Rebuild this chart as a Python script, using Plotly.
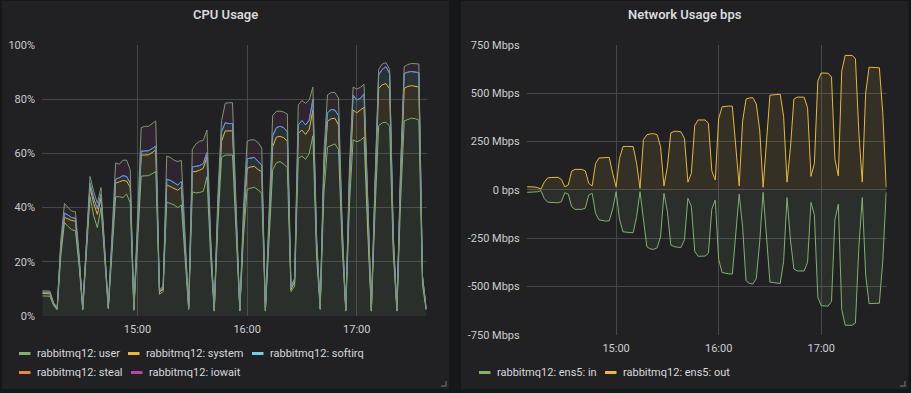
import pandas as pd
import plotly.graph_objects as go

# ---------------- data ----------------
times = pd.date_range("2019-01-01 14:08", periods=106, freq="2min")

cpu_names = ["rabbitmq12: user", "rabbitmq12: system", "rabbitmq12: softirq",
             "rabbitmq12: steal", "rabbitmq12: iowait"]
net_names = ["rabbitmq12: ens5: in", "rabbitmq12: ens5: out"]

cpu_user = [
    7.4, 7.4, 7.3, 4.0, 2.3, 22, 34.5, 33, 31.8, 31.5,
    18.5, 2.2, 24, 44, 37, 32.6, 40, 20, 2.6, 23,
    44, 44, 43.7, 45, 41.8, 2.1, 26, 51.6, 51.7, 51.8,
    52.5, 53.3, 8.0, 9.0, 42, 41.5, 41, 40, 41, 21.5,
    2.4, 45.8, 45.4, 45.6, 46, 51.4, 22, 1.8, 34, 58.5,
    59.4, 59.4, 59.4, 30, 1.8, 29, 46.7, 47.2, 47.5, 46.5,
    45.3, 1.8, 29, 54, 56.5, 57, 56, 54.8, 9.0, 11,
    58.2, 59, 57.8, 60, 66.5, 22, 2.4, 45, 62.3, 63,
    63.5, 61.5, 26, 1.8, 41, 65, 64.3, 64.8, 66, 31,
    1.8, 38, 70.2, 71.3, 71.5, 70, 23, 1.8, 42, 72,
    72.5, 73, 72.8, 72.3, 11.5, 2.2,
]
cpu_system = [
    0.9, 0.9, 0.9, 0.4, 0.3, 3, 1.9, 2.8, 3.4, 3.5,
    2.0, 0.4, 3, 3.5, 4.5, 4.9, 3.5, 2.5, 0.4, 3,
    5, 5.5, 6.3, 4.8, 5.7, 0.4, 4, 7.8, 7.7, 7.7,
    7.8, 8.0, 0.8, 0.9, 6.4, 6.3, 6.0, 6.4, 6.5, 3.5,
    0.5, 7.4, 7.9, 8.2, 8.5, 7.4, 4, 0.3, 5, 6.0,
    8.9, 8.9, 8.9, 4.5, 0.3, 5, 7.8, 7.8, 7.7, 7.5,
    8.0, 0.3, 4.5, 8.5, 9.5, 9.3, 9.8, 9.7, 0.8, 1.5,
    9.2, 9.6, 9.2, 8.9, 9.5, 4, 0.5, 7, 9.5, 9.8,
    9.5, 9.0, 4, 0.3, 7, 11, 10.7, 11.2, 11, 5,
    0.3, 7, 13.8, 14.0, 14.3, 13.8, 4, 0.3, 8, 12,
    12.2, 12, 12, 12.2, 2.0, 0.4,
]
cpu_softirq = [
    0.5, 0.5, 0.5, 0.3, 0.2, 1, 1.6, 1.4, 1.1, 1.1,
    1.0, 0.2, 1, 1.5, 2.0, 2.0, 1.5, 1.0, 0.2, 1,
    1.5, 1.5, 1.8, 1.7, 1.5, 0.2, 1, 1.4, 1.5, 1.5,
    1.5, 1.4, 0.4, 0.5, 2.1, 2.2, 2.2, 1.9, 2.1, 1.0,
    0.2, 1.8, 1.9, 1.7, 1.8, 1.5, 1, 0.2, 2, 3.5,
    3.0, 2.7, 2.7, 1.5, 0.2, 2, 3.5, 3.3, 3.3, 3.0,
    2.4, 0.2, 2.5, 4.0, 3.5, 3.7, 3.7, 3.5, 0.5, 0.7,
    3.1, 3.5, 3.5, 3.4, 4.0, 2, 0.2, 3, 3.2, 3.4,
    3.0, 3.5, 2, 0.2, 3, 5.5, 4.7, 4.3, 5, 2,
    0.2, 2, 5.0, 5.7, 6.2, 5.7, 2, 0.2, 3, 5.5,
    5.3, 5.2, 5.2, 5.3, 1.0, 0.2,
]
cpu_steal = [
    0, 0, 0, 0, 0, 0, 0, 0, 0, 0,
    0, 0, 0, 0, 0, 0, 0, 0, 0, 0,
    0, 0, 0, 0, 0, 0, 0, 0, 0, 0,
    0, 0, 0, 0, 0, 0, 0, 0, 0, 0,
    0, 0, 0, 0, 0, 0, 0, 0, 0, 0,
    0, 0, 0, 0, 0, 0, 0, 0, 0, 0,
    0, 0, 0, 0, 0, 0, 0, 0, 0, 0,
    0, 0, 0, 0, 0, 0, 0, 0, 0, 0,
    0, 0, 0, 0, 0, 0, 0, 0, 0, 0,
    0, 0, 0, 0, 0, 0, 0, 0, 0, 0,
    0, 0, 0, 0, 0, 0,
]
cpu_iowait = [
    0.5, 0.5, 0.5, 0.3, 0.2, 2, 3.5, 2.8, 2.4, 2.4,
    1.5, 0.2, 2, 2.5, 2.5, 2.1, 2.4, 1.5, 0.3, 3,
    6, 5, 5.7, 6, 5, 0.3, 4, 8.7, 9.1, 9.0,
    9.2, 9.3, 0.5, 0.6, 8.5, 8.5, 8.3, 8.7, 7.8, 4.0,
    0.3, 6.5, 8.3, 9.0, 8.5, 8.3, 3, 0.2, 4, 4.0,
    7.2, 7.7, 7.7, 4.0, 0.2, 4, 6.5, 6.7, 6.5, 7.0,
    6.3, 0.2, 4, 7.5, 6.0, 5.6, 5.8, 6.5, 0.7, 0.8,
    7.4, 7.4, 8.0, 7.4, 4.5, 2, 0.3, 5, 6.6, 6.3,
    6.5, 6.5, 3, 0.2, 4, 3.0, 4.0, 4.1, 3.5, 2,
    0.2, 3, 2.0, 2.0, 1.5, 1.5, 1, 0.2, 2, 2.5,
    2.8, 3.0, 3.2, 3.2, 0.5, 0.2,
]

net_out = [
    16, 16, 15, 12, 4, 40, 62, 64, 64, 65,
    54, 16, 25, 97, 106, 107, 106, 98, 34, 20,
    137, 165, 167, 168, 168, 85, 16, 163, 224, 225,
    225, 224, 137, 8, 260, 285, 290, 291, 285, 224,
    20, 120, 295, 303, 303, 300, 265, 40, 85, 333,
    362, 362, 362, 345, 98, 51, 368, 430, 433, 434,
    433, 220, 20, 355, 470, 476, 477, 445, 310, 13,
    259, 490, 492, 494, 495, 380, 40, 220, 470, 480,
    480, 480, 425, 70, 137, 563, 605, 606, 604, 584,
    160, 72, 615, 696, 696, 696, 680, 300, 40, 500,
    635, 635, 635, 632, 400, 13,
]
net_in = [
    -13, -13, -13, -10, -4, -45, -64, -66, -66, -67,
    -61, -15, -22, -87, -101, -102, -101, -95, -27, -18,
    -122, -155, -160, -162, -160, -100, -10, -152, -217, -220,
    -221, -222, -139, -10, -170, -295, -306, -308, -300, -243,
    -18, -113, -286, -294, -297, -298, -258, -44, -85, -318,
    -344, -344, -343, -328, -100, -53, -360, -428, -433, -435,
    -436, -222, -22, -193, -470, -485, -487, -460, -270, -13,
    -250, -478, -480, -483, -485, -370, -40, -260, -410, -420,
    -420, -420, -375, -65, -131, -556, -600, -602, -602, -578,
    -155, -74, -620, -701, -701, -701, -690, -300, -40, -440,
    -589, -589, -589, -587, -370, -13,
]

cpu_ticks = [0, 20, 40, 60, 80, 100]
cpu_tick_text = ["0%", "20%", "40%", "60%", "80%", "100%"]
net_ticks = [-750, -500, -250, 0, 250, 500, 750]
net_tick_text = ["-750 Mbps", "-500 Mbps", "-250 Mbps", "0 bps",
                 "250 Mbps", "500 Mbps", "750 Mbps"]
hour_ticks = ["2019-01-01 15:00", "2019-01-01 16:00", "2019-01-01 17:00"]
hour_text = ["15:00", "16:00", "17:00"]

for arr in (cpu_user, cpu_system, cpu_softirq, cpu_steal, cpu_iowait, net_out, net_in):
    assert len(arr) == len(times), len(arr)

# ---------------- style ----------------
W, H = 911, 393
BODY = "#161719"
PANEL = "#212124"
GRID = "#47474a"
TXT = "#d8d9da"
TICK = "#cccdce"
FONT = "Roboto, Helvetica, Arial, sans-serif"

legend_colors_cpu = ["#7eb26d", "#eab839", "#6ed0e0", "#ef843c", "#ba43a9"]
legend_colors_net = ["#7eb26d", "#eab839"]
cpu_line_colors = ["#7eb26d", "#eab839", "#6a8fd6", "#6a8fd6", "#7b9a70"]
cpu_fill_colors = ["rgba(126,178,109,0.10)", "rgba(234,184,57,0.10)",
                   "rgba(110,208,224,0.10)", "rgba(239,132,60,0.10)",
                   "rgba(186,67,169,0.10)"]


def px(x):
    return x / W


def py(y):
    return 1 - y / H


fig = go.Figure()

cpu_series = [cpu_user, cpu_system, cpu_softirq, cpu_steal, cpu_iowait]
for name, vals, lc, fc in zip(cpu_names, cpu_series, cpu_line_colors, cpu_fill_colors):
    fig.add_trace(go.Scatter(
        x=times, y=vals, name=name, mode="lines", stackgroup="cpu",
        line=dict(color=lc, width=1), fillcolor=fc,
        xaxis="x", yaxis="y", showlegend=False, hoverinfo="skip"))

fig.add_trace(go.Scatter(
    x=times, y=net_in, name=net_names[0], mode="lines", fill="tozeroy",
    line=dict(color="#7eb26d", width=1), fillcolor="rgba(126,178,109,0.10)",
    xaxis="x2", yaxis="y2", showlegend=False, hoverinfo="skip"))
fig.add_trace(go.Scatter(
    x=times, y=net_out, name=net_names[1], mode="lines", fill="tozeroy",
    line=dict(color="#eab839", width=1), fillcolor="rgba(234,184,57,0.10)",
    xaxis="x2", yaxis="y2", showlegend=False, hoverinfo="skip"))

xrange = ["2019-01-01 14:07:42", "2019-01-01 17:38:18"]
xcommon = dict(type="date", range=xrange, tickvals=hour_ticks, ticktext=hour_text,
               showgrid=True, gridcolor=GRID, gridwidth=1, zeroline=False,
               showline=False, ticks="", ticklabelstandoff=5, automargin=False,
               tickfont=dict(family=FONT, size=11, color=TICK), fixedrange=True)
ycommon = dict(showgrid=True, gridcolor=GRID, gridwidth=1, zeroline=False,
               showline=False, ticks="", ticklabelstandoff=6, automargin=False,
               tickfont=dict(family=FONT, size=11, color=TICK), fixedrange=True)

shapes = []
# panels
for x0, x1 in ((2, 449), (461, 908)):
    shapes.append(dict(type="rect", xref="paper", yref="paper", layer="below",
                       x0=px(x0), x1=px(x1), y0=py(389), y1=py(1),
                       fillcolor=PANEL, line=dict(width=0)))
    # resize corner
    shapes.append(dict(type="path", xref="paper", yref="paper",
                       path="M {a},{b} L {c},{b} L {c},{d}".format(
                           a=px(x1 - 8), b=py(386), c=px(x1 - 3), d=py(381)),
                       line=dict(color="#5c5c5f", width=1.5)))

annotations = [
    dict(text="CPU Usage", x=px(225.5), y=py(15), xref="paper", yref="paper",
         showarrow=False, xanchor="center", yanchor="middle",
         font=dict(family=FONT, size=13, color=TXT, weight=600)),
    dict(text="Network Usage bps", x=px(684.5), y=py(15), xref="paper", yref="paper",
         showarrow=False, xanchor="center", yanchor="middle",
         font=dict(family=FONT, size=13, color=TXT, weight=600)),
]

# legends (marker x start, row y)
cpu_leg_pos = [(19, 353.5), (128, 353.5), (252, 353.5), (19, 372.5), (131, 372.5)]
net_leg_pos = [(479, 372.5), (605, 372.5)]
for names, colors, pos in ((cpu_names, legend_colors_cpu, cpu_leg_pos),
                           (net_names, legend_colors_net, net_leg_pos)):
    for name, col, (mx, my) in zip(names, colors, pos):
        shapes.append(dict(type="rect", xref="paper", yref="paper",
                           x0=px(mx), x1=px(mx + 11.5), y0=py(my + 1.5), y1=py(my - 1.5),
                           fillcolor=col, line=dict(width=0)))
        annotations.append(dict(text=name, x=px(mx + 16), y=py(my), xref="paper", yref="paper",
                                showarrow=False, xanchor="left", yanchor="middle",
                                font=dict(family=FONT, size=11, color=TXT)))

fig.update_layout(
    template="none",
    width=W, height=H, autosize=False,
    margin=dict(l=0, r=0, t=0, b=0, pad=0, autoexpand=False),
    paper_bgcolor=BODY, plot_bgcolor=PANEL,
    showlegend=False,
    font=dict(family=FONT, color=TXT),
    xaxis=dict(domain=[px(42), px(426.7)], anchor="y", **xcommon),
    yaxis=dict(domain=[py(316), py(45)], anchor="x", range=[0, 100],
               tickvals=cpu_ticks, ticktext=cpu_tick_text, **ycommon),
    xaxis2=dict(domain=[px(526.7), px(886.7)], anchor="y2", **xcommon),
    yaxis2=dict(domain=[py(334.7), py(45)], anchor="x2", range=[-750, 750],
                tickvals=net_ticks, ticktext=net_tick_text, **ycommon),
    shapes=shapes,
    annotations=annotations,
)

page_fix = (
    "var gd=document.getElementById('{plot_id}');"
    "gd.style.position='fixed';gd.style.left='0px';gd.style.top='0px';"
    "gd.style.margin='0';"
    "document.documentElement.style.margin='0';"
    "document.documentElement.style.padding='0';"
    "document.documentElement.style.overflow='hidden';"
    "document.documentElement.style.background='" + BODY + "';"
    "document.body.style.margin='0';"
    "document.body.style.padding='0';"
    "document.body.style.overflow='hidden';"
    "document.body.style.background='" + BODY + "';"
)

fig.write_html(
    "out.html",
    config={"displayModeBar": False, "staticPlot": True},
    post_script=page_fix,
)
